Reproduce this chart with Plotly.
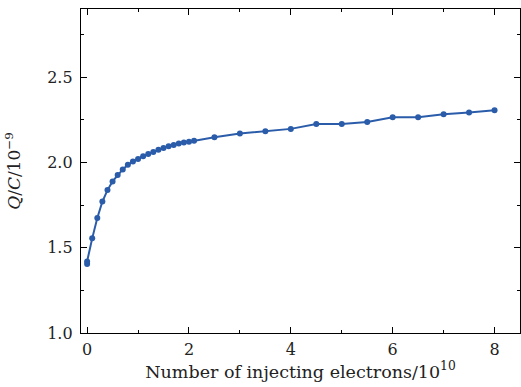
import plotly.graph_objects as go

x_vals = [0, 0, 0.1, 0.2, 0.3, 0.4, 0.5, 0.6, 0.7, 0.8, 0.9, 1.0, 1.1, 1.2, 1.3, 1.4,
          1.5, 1.6, 1.7, 1.8, 1.9, 2.0, 2.1, 2.5, 3.0, 3.5, 4.0, 4.5, 5.0, 5.5, 6.0,
          6.5, 7.0, 7.5, 8.0]
y_vals = [1.405, 1.42, 1.555, 1.674, 1.771, 1.838, 1.889, 1.927, 1.959, 1.986, 2.006,
          2.021, 2.037, 2.05, 2.062, 2.074, 2.085, 2.095, 2.103, 2.111, 2.117, 2.122,
          2.128, 2.148, 2.170, 2.183, 2.197, 2.226, 2.226, 2.238, 2.265, 2.265,
          2.283, 2.293, 2.306]

x_ticks = [0, 2, 4, 6, 8]
y_ticks = [1.0, 1.5, 2.0, 2.5]
y_tick_text = ["1.0", "1.5", "2.0", "2.5"]

color = "#2a5caa"
font_family = "DejaVu Serif"

fig = go.Figure()
fig.add_trace(go.Scatter(
    x=x_vals, y=y_vals, mode="lines+markers",
    line=dict(color=color, width=2),
    marker=dict(color=color, size=6),
    showlegend=False,
))

axis_common = dict(
    showline=True, linecolor="black", linewidth=1.3, mirror="allticks",
    ticks="inside", ticklen=6, tickwidth=1, tickcolor="black",
    showgrid=False, zeroline=False, automargin=False,
    tickfont=dict(family=font_family, size=16, color="#222"),
)

fig.update_xaxes(
    range=[-0.12, 8.5], tickvals=x_ticks,
    minor=dict(dtick=1, tick0=0, ticks="inside", ticklen=3, tickcolor="black", tickwidth=1),
    title=dict(text="Number of injecting electrons/10<sup>10</sup>",
               font=dict(family=font_family, size=17.5, color="#222"), standoff=4),
    ticklabelstandoff=2,
    **axis_common,
)
fig.update_yaxes(
    range=[1.0, 2.9], tickvals=y_ticks, ticktext=y_tick_text,
    minor=dict(dtick=0.25, tick0=0, ticks="inside", ticklen=3, tickcolor="black", tickwidth=1),
    title=dict(text="<i>Q</i>/<i>C</i>/10<sup>−9</sup>",
               font=dict(family=font_family, size=17, color="#222"), standoff=22),
    ticklabelstandoff=4,
    **axis_common,
)

fig.update_layout(
    width=521, height=387,
    margin=dict(l=81, r=1, t=9, b=54),
    paper_bgcolor="white", plot_bgcolor="white",
)

fig.write_html("out.html", config={"displayModeBar": False})

# remove the browser's default page margin so the figure sits at the window origin
with open("out.html", "r", encoding="utf-8") as f:
    html = f.read()
html = html.replace("<head>", "<head><style>html,body{margin:0;padding:0;}</style>", 1)
with open("out.html", "w", encoding="utf-8") as f:
    f.write(html)
